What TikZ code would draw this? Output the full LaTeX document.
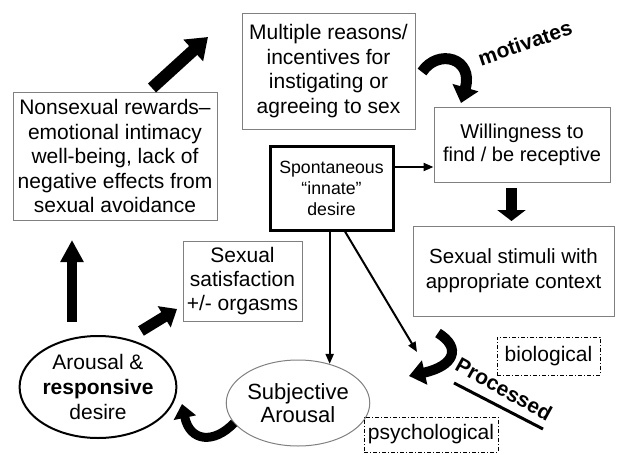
\documentclass[tikz,border=0pt]{standalone}
\usepackage{fontspec}
\setmainfont{Liberation Sans}
\usetikzlibrary{arrows.meta,shapes.geometric}
\definecolor{boxgray}{rgb}{0.5,0.5,0.5}
\begin{document}
\begin{tikzpicture}[x=1pt,y=-1pt,
  txt/.style={font=\fontsize{21}{24.5}\selectfont, align=center, inner sep=0pt},
  plainbox/.style={txt, rectangle, draw=boxgray, line width=1pt},
  keybox/.style={rectangle, draw=black, line width=3pt, inner sep=0pt, align=center,
    font=\fontsize{17.7}{21}\selectfont},
  tagbox/.style={txt, rectangle, draw=black, line width=1pt,
    dash pattern=on 4pt off 2pt on 1pt off 2pt},
  link/.style={draw=black, line width=2pt, -{Triangle[length=10pt,width=8pt]}},
  fat/.style={draw=black, line cap=butt},
  label/.style={font=\bfseries\fontsize{21}{24}\selectfont, inner sep=0pt}
]
\useasboundingbox (0,0) rectangle (624,455);

% boxes
\node[plainbox, minimum width=173pt, minimum height=116pt] (reasons) at (328.5,71)
  {Multiple reasons/\\incentives for\\instigating or\\agreeing to sex};
\node[plainbox, minimum width=204pt, minimum height=128pt] (rewards) at (115,156)
  {Nonsexual rewards–\\emotional intimacy\\well-being, lack of\\negative effects from\\sexual avoidance};
\node[keybox, minimum width=123pt, minimum height=84pt] (spont) at (331.5,188)
  {Spontaneous\\“innate”\\desire};
\node[plainbox, minimum width=176pt, minimum height=75pt,
  font=\fontsize{20}{23}\selectfont] (willing) at (522,144.5)
  {Willingness to\\find / be receptive};
\node[plainbox, minimum width=201pt, minimum height=90pt,
  font=\fontsize{20.5}{25}\selectfont] (stimuli) at (513.5,271)
  {Sexual stimuli with\\appropriate context};
\node[plainbox, minimum width=119pt, minimum height=80pt,
  font=\fontsize{21}{24}\selectfont] (satis) at (242.5,281)
  {Sexual\\satisfaction\\+/- orgasms};

% ellipses
\node[txt, ellipse, draw=black, line width=2pt, minimum width=150pt, minimum height=102pt,
  font=\fontsize{21}{25}\selectfont] (arousal) at (98,387)
  {Arousal \&\\\textbf{responsive}\\desire};
\node[txt, ellipse, draw=boxgray, line width=1pt, minimum width=122pt, minimum height=86pt,
  font=\fontsize{22}{22.5}\selectfont] (subj) at (298,403)
  {Subjective\\Arousal};

% dash-dot tags
\node[tagbox, minimum width=103pt, minimum height=38pt] (bio) at (548.5,356) {biological};
\node[tagbox, minimum width=134pt, minimum height=35pt] (psych) at (431,434.5) {psychological};

% thin connectors from the spontaneous desire box
\coordinate (spontout) at ([yshift=21pt]spont.east);
\draw[link] (spontout) -- (spontout -| willing.west);
\draw[link] (subj.51 |- spont.south) -- (subj.51);
\coordinate (proctip) at (417,352);
\draw[link] ([xshift=13.5pt]spont.south) -- (proctip);

% block arrows
\coordinate (r1) at (152,88);   \coordinate (r2) at (208,37);
\draw[fat, line width=12pt, -{Triangle[width=28pt,length=20pt]}] (r1) -- (r2);
\coordinate (u1) at (72,322);   \coordinate (u2) at (72,240);
\draw[fat, line width=10pt, -{Triangle[width=22pt,length=22pt]}] (u1) -- (u2);
\coordinate (s1) at (141,331);  \coordinate (s2) at (177,309);
\draw[fat, line width=11pt, -{Triangle[width=24pt,length=15pt]}] (s1) -- (s2);
\coordinate (w1) at (511.5,188); \coordinate (w2) at (511.5,221);
\draw[fat, line width=11pt, -{Triangle[width=28pt,length=11pt]}] (w1) -- (w2);

% curved arrows
\coordinate (m1) at (422,72);   \coordinate (m2) at (461,103);
\draw[fat, line width=11pt, -{Triangle[width=26pt,length=16pt]}]
  (m1) .. controls (438,48) and (474,58) .. (m2);
\coordinate (p1) at (438,333);  \coordinate (p2) at (409,376);
\draw[fat, line width=10pt, -{Triangle[width=24pt,length=16pt]}]
  (p1) .. controls (462,348) and (454,366) .. (p2);
\coordinate (a1) at (234,423);  \coordinate (a2) at (182,404);
\draw[fat, line width=9pt, -{Triangle[width=22pt,length=14pt]}]
  (a1) .. controls (214,444) and (190,442) .. (a2);

% labels
\node[label, rotate=19] (motiv) at (525,43) {motivates};
\node[label, rotate=-29] (proc) at (504,389) {Processed};
\coordinate (ul1) at (454,383); \coordinate (ul2) at (543,429);
\draw[line width=3pt] (ul1) -- (ul2);
\end{tikzpicture}
\end{document}
